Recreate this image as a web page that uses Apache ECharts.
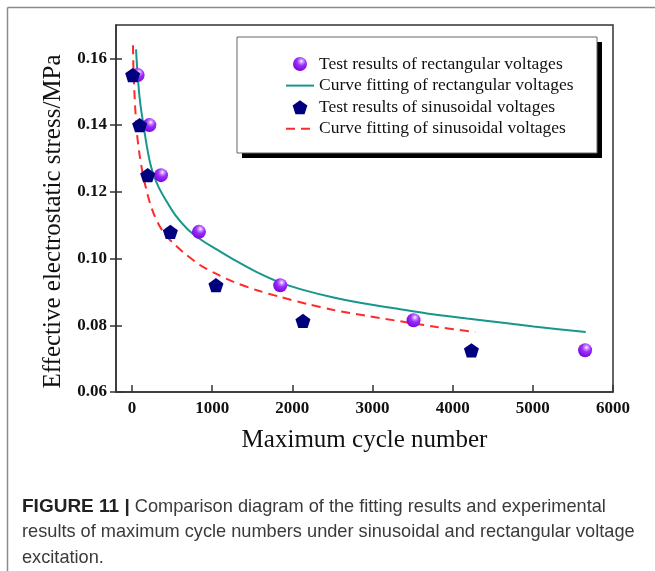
<!DOCTYPE html>
<html>
<head>
<meta charset="utf-8">
<title>Figure 11</title>
<script src="https://cdn.jsdelivr.net/npm/echarts@6.0.0/dist/echarts.min.js"></script>
<style>
  html, body { margin: 0; padding: 0; background: #fff; }
  #chart { width: 655px; height: 571px; }
</style>
</head>
<body>
<div id="chart"></div>
<script>
// tick positions on both axes
const cycleTicks = [0, 1000, 2000, 3000, 4000, 5000, 6000];
const stressTicks = [0.06, 0.08, 0.1, 0.12, 0.14, 0.16];

// test results
const rectCycles = [70, 216, 361, 835, 1849, 3512, 5652];
const rectStress = [0.155, 0.14, 0.125, 0.108, 0.092, 0.0815, 0.0725];
const sineCycles = [8, 95, 195, 478, 1047, 2132, 4234];
const sineStress = [0.155, 0.14, 0.125, 0.108, 0.092, 0.0813, 0.0725];

// fitted curves, points
const rectFitCycles = [50, 70, 100, 145, 187, 228, 270, 330, 415, 540, 693, 852, 1050, 1267, 1550, 1849,
  2180, 2514, 2900, 3346, 3750, 4177, 4600, 5008, 5660];
const rectFitStress = [0.1627, 0.155, 0.147, 0.1396, 0.1334, 0.1284, 0.125, 0.1215, 0.1178, 0.113, 0.1088, 0.1058,
  0.1028, 0.0997, 0.096, 0.0928, 0.0903, 0.0883, 0.0865, 0.0848, 0.0833, 0.082, 0.0808, 0.0796, 0.078];
const sineFitCycles = [12, 20, 54, 90, 137, 180, 228, 270, 320, 380, 436, 520, 643, 852, 1060, 1267, 1559,
  1849, 2182, 2514, 2930, 3346, 3800, 4281];
const sineFitStress = [0.1639, 0.155, 0.1396, 0.1318, 0.125, 0.1205, 0.1163, 0.1135, 0.1108, 0.1083, 0.1065,
  0.1045, 0.1018, 0.098, 0.0953, 0.093, 0.0905, 0.0885, 0.0864, 0.0846, 0.0828, 0.0812, 0.0795, 0.078];

const names = [
  "Test results of rectangular voltages",
  "Curve fitting of rectangular voltages",
  "Test results of sinusoidal voltages",
  "Curve fitting of sinusoidal voltages",
];

const pairs = (xs, ys) => xs.map((x, i) => [x, ys[i]]);

const pentagon = "path://M0,-1L0.951,-0.309L0.588,0.809L-0.588,0.809L-0.951,-0.309Z";
const sphere = {
  type: "radial", x: 0.6, y: 0.3, r: 0.8,
  colorStops: [
    { offset: 0, color: "#ffffff" },
    { offset: 0.14, color: "#d49cff" },
    { offset: 0.4, color: "#9b2dfc" },
    { offset: 1, color: "#6c00d2" },
  ],
};
const hidden = { color: "rgba(0,0,0,0)", borderColor: "rgba(0,0,0,0)", borderWidth: 0 };

const serif = "Liberation Serif, Times New Roman, serif";
const sans = "Liberation Sans, Arial, sans-serif";
const axisColor = "#333";

const chart = echarts.init(document.getElementById("chart"));

chart.setOption({
  animation: false,
  backgroundColor: "#fff",
  grid: {
    left: 116, top: 25, right: 42, bottom: 179,
    show: true, borderColor: axisColor, borderWidth: 1.5,
  },
  legend: {
    orient: "vertical",
    left: 285, top: 55,
    padding: 0,
    itemWidth: 28, itemHeight: 14, itemGap: 3.6,
    textStyle: { fontFamily: serif, fontSize: 17.5, lineHeight: 16, color: "#111" },
    data: [
      { name: names[0], icon: "circle" },
      { name: names[1], itemStyle: hidden },
      { name: names[2], icon: pentagon },
      { name: names[3], itemStyle: hidden },
    ],
    z: 10,
  },
  xAxis: {
    type: "value",
    min: -200, max: 6000,
    name: "Maximum cycle number",
    nameLocation: "middle",
    nameGap: 36,
    nameTextStyle: { fontFamily: serif, fontSize: 25, color: "#111" },
    axisLine: { show: true, onZero: false, lineStyle: { color: axisColor, width: 1.5 } },
    axisTick: { inside: true, length: 7, customValues: cycleTicks, lineStyle: { color: axisColor, width: 1.5 } },
    axisLabel: {
      customValues: cycleTicks, margin: 8,
      formatter: (v) => String(v),
      fontFamily: serif, fontWeight: "bold", fontSize: 17, color: "#111",
    },
    splitLine: { show: false },
  },
  yAxis: [
    {
      type: "value",
      min: 0.06, max: 0.17,
      name: "Effective electrostatic stress/MPa",
      nameLocation: "middle",
      nameGap: 50,
      nameTextStyle: { fontFamily: serif, fontSize: 25, color: "#111", padding: [0, 26, 0, 0] },
      axisLine: { show: true, onZero: false, lineStyle: { color: axisColor, width: 1.5 } },
      axisTick: { inside: true, length: 6, customValues: stressTicks, lineStyle: { color: axisColor, width: 1.5 } },
      axisLabel: {
        customValues: stressTicks, margin: 9,
        formatter: (v) => v.toFixed(2),
        fontFamily: serif, fontWeight: "bold", fontSize: 17, color: "#111",
      },
      splitLine: { show: false },
    },
    {
      // second copy of the axis only for the outward half of the ticks
      type: "value",
      position: "left",
      min: 0.06, max: 0.17,
      axisLine: { show: false, onZero: false },
      axisTick: { show: true, inside: false, length: 6, customValues: stressTicks, lineStyle: { color: axisColor, width: 1.5 } },
      axisLabel: { show: false },
      splitLine: { show: false },
    },
  ],
  graphic: [
    // figure frame
    { type: "line", shape: { x1: 7.5, y1: 7.5, x2: 655, y2: 7.5 }, style: { stroke: "#8a8a8a", lineWidth: 1.5 } },
    { type: "line", shape: { x1: 7.5, y1: 7.5, x2: 7.5, y2: 571 }, style: { stroke: "#8a8a8a", lineWidth: 1.5 } },
    // legend box with its drop shadow
    { type: "rect", z: 1, shape: { x: 242, y: 42, width: 360, height: 116 }, style: { fill: "#000" } },
    { type: "rect", z: 2, shape: { x: 237, y: 37, width: 360, height: 116 }, style: { fill: "#fff", stroke: "#666", lineWidth: 1 } },
    // caption
    {
      type: "text",
      left: 22, top: 494,
      style: {
        text: "{b|FIGURE 11 |} Comparison diagram of the fitting results and experimental\nresults of maximum cycle numbers under sinusoidal and rectangular voltage\nexcitation.",
        fontFamily: sans,
        fontSize: 18.2,
        lineHeight: 25.5,
        fill: "#3a3a3a",
        rich: {
          b: { fontFamily: sans, fontSize: 19, fontWeight: "bold", fill: "#222", lineHeight: 25.5 },
        },
      },
    },
  ],
  series: [
    {
      name: names[1],
      type: "line",
      data: pairs(rectFitCycles, rectFitStress),
      smooth: 0.3,
      symbol: "none",
      lineStyle: { color: "#17978c", width: 2 },
      itemStyle: { color: "#17978c" },
      z: 2,
    },
    {
      name: names[3],
      type: "line",
      data: pairs(sineFitCycles, sineFitStress),
      smooth: 0.3,
      symbol: "none",
      lineStyle: { color: "#ff2a2a", width: 2, type: [9, 6] },
      itemStyle: { color: "#ff2a2a" },
      z: 2,
    },
    {
      name: names[0],
      type: "scatter",
      data: pairs(rectCycles, rectStress),
      symbol: "circle",
      symbolSize: 14,
      itemStyle: { color: sphere, opacity: 1 },
      z: 3,
    },
    {
      name: names[2],
      type: "scatter",
      data: pairs(sineCycles, sineStress),
      symbol: pentagon,
      symbolSize: 15,
      symbolKeepAspect: true,
      itemStyle: { color: "#00007f", opacity: 1 },
      z: 3,
    },
  ],
});
</script>
</body>
</html>
